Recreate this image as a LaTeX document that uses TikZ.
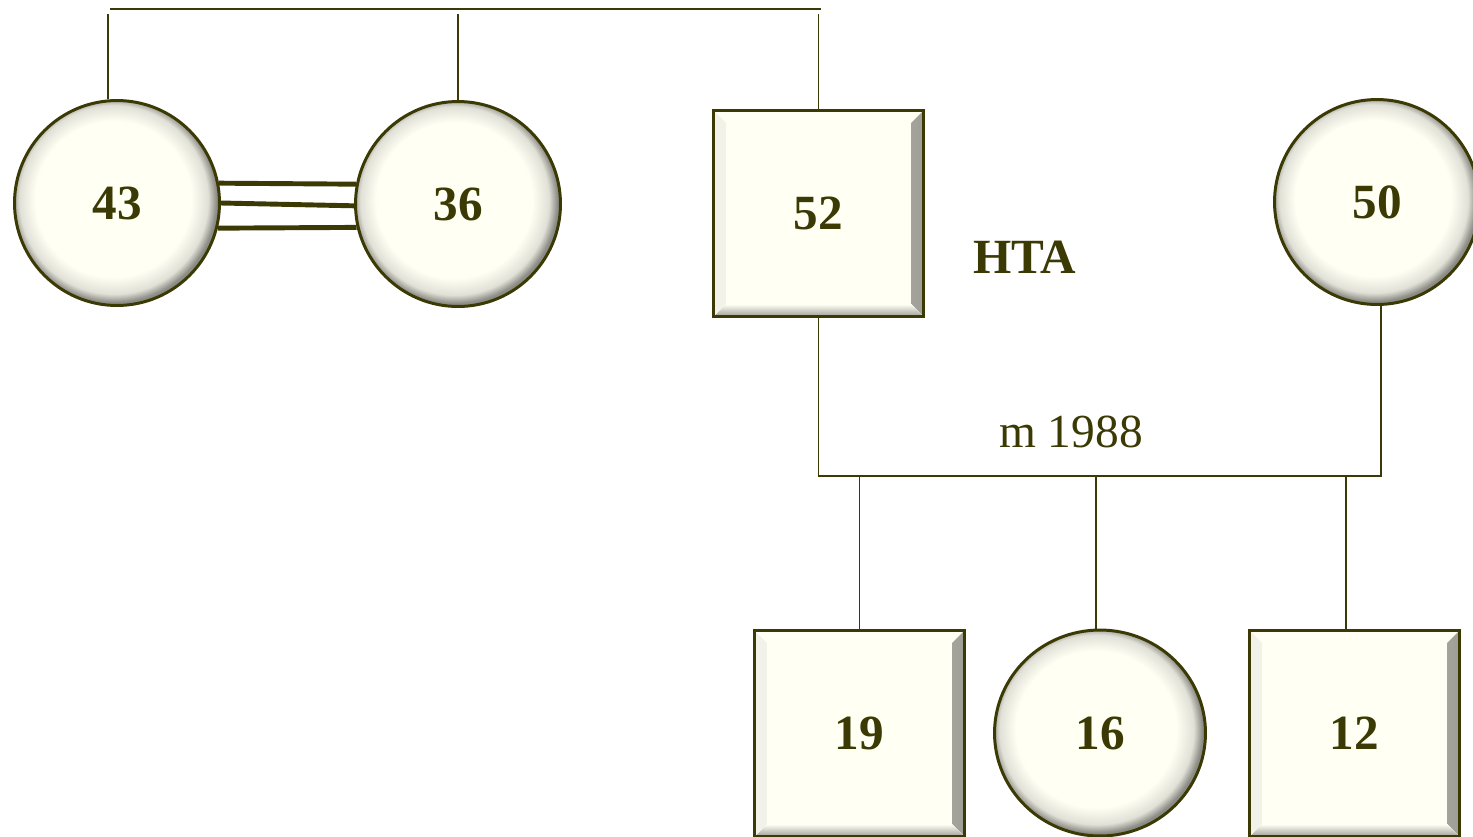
\documentclass[tikz,border=0pt]{standalone}
\usepackage{fontspec}
\setmainfont{Liberation Serif}
\usetikzlibrary{shapes.geometric}
\definecolor{pedink}{HTML}{3B3A05}
\definecolor{pedfill}{HTML}{FFFFF4}
\pgfdeclareradialshading{pedball}{\pgfpoint{-1.5bp}{1.5bp}}{color(0bp)=(pedfill); color(19bp)=(pedfill); color(23bp)=(pedfill!88!black); color(25bp)=(pedfill!55!black); color(50bp)=(pedfill!55!black)}

\begin{document}
\begin{tikzpicture}[x=0.02cm, y=-0.02cm, color=pedink, font=\fontsize{28}{32}\selectfont\bfseries]
 \tikzstyle{female}=[circle, draw=pedink, line width=1.7pt, shading=pedball, minimum size=4.1cm, inner sep=0pt]
 \tikzstyle{girl}=[ellipse, draw=pedink, line width=1.7pt, shading=pedball, minimum width=4.22cm, minimum height=4.12cm, inner sep=0pt]
 \tikzstyle{male}=[rectangle, draw=pedink, line width=1.7pt, fill=pedfill, minimum width=4.2cm, minimum height=4.12cm, inner sep=0pt,
   path picture={
    \fill[left color=pedfill, right color=pedfill!62!black] ([shift={(-7pt,7pt)}]path picture bounding box.south east) -- (path picture bounding box.south east) -- (path picture bounding box.north east) -- ([shift={(-7pt,-7pt)}]path picture bounding box.north east) -- cycle;
    \fill[top color=pedfill, bottom color=pedfill!62!black] ([shift={(7pt,7pt)}]path picture bounding box.south west) -- (path picture bounding box.south west) -- (path picture bounding box.south east) -- ([shift={(-7pt,7pt)}]path picture bounding box.south east) -- cycle;
    \fill[pedfill!95!black] ([shift={(7pt,-7pt)}]path picture bounding box.north west) -- (path picture bounding box.north west) -- (path picture bounding box.south west) -- ([shift={(7pt,7pt)}]path picture bounding box.south west) -- cycle;
   }]
 \tikzstyle{line}=[line width=1.1pt]
 \tikzstyle{twin}=[line width=2.8pt]
 \useasboundingbox (0,0) rectangle (1473,836);

 \node (c43) at (117,203) [female] {43};
 \node (c36) at (458,204) [female] {36};
 \node (s52) at (818.5,213.5) [male] {52};
 \node (c50) at (1377,202) [female] {50};
 \node (s19) at (859.5,733.5) [male] {19};
 \node (e16) at (1100,733) [girl] {16};
 \node (s12) at (1354.5,733.5) [male] {12};

 \node (hta) at (1025,257) {HTA};
 \node (marriage) at (1071,432) {\fontsize{27}{30}\selectfont\mdseries m 1988};

 \coordinate (sibL) at (110,9);
 \coordinate (sibR) at (821,9);
 \coordinate (marL) at (821,476);
 \coordinate (marR) at (1381,476);

 % sibship
 \draw [line width=1.6pt] (sibL) -- (sibR);
 \draw [line] (c43.95) -- (c43.95 |- 0,14);
 \draw [line] (c36.north) -- (c36.north |- 0,14);
 \draw [line] (s52.north) -- (s52.north |- 0,14);
 \draw [twin] (c43.11) -- (c36.169);
 \draw [twin] (c43.0) -- (c36.181);
 \draw [twin] (c43.-14) -- (c36.193.5);

 % marriage and children
 \draw [line] (s52.south) -- (s52.south |- marL) -- (marR) -- (c50.south -| marR);
 \draw [line] (s19.north) -- (s19.north |- marL);
 \draw [line] ([xshift=-0.08cm]e16.north) -- ([xshift=-0.08cm]e16.north |- marL);
 \draw [line] ([xshift=-0.17cm]s12.north) -- ([xshift=-0.17cm]s12.north |- marL);

\end{tikzpicture}
\end{document}
